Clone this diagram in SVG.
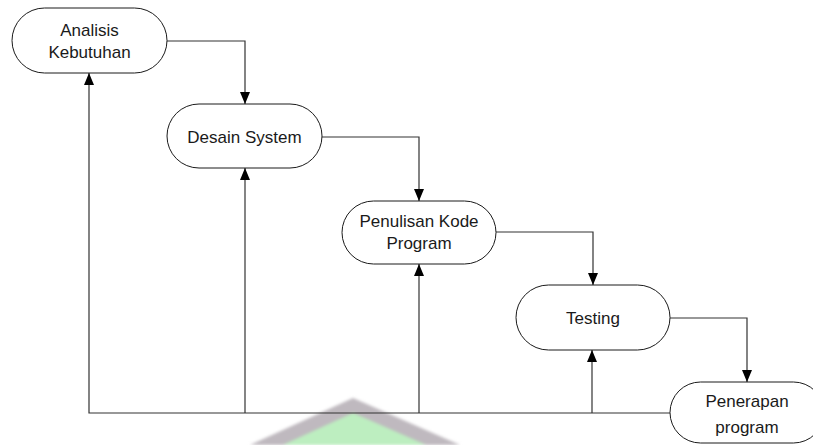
<svg xmlns="http://www.w3.org/2000/svg" width="813" height="445" viewBox="0 0 813 445">
  <style>
    .node { fill: #ffffff; stroke: #1a1a1a; stroke-width: 1; }
    .label { font-family: "Liberation Sans", Arial, sans-serif; font-size: 17px; fill: #1a1a1a; text-anchor: middle; }
    .edge { fill: none; stroke: #333333; stroke-width: 1.2; }
  </style>
  <defs>
    <marker id="arrow" viewBox="0 0 12 10" refX="12" refY="5" markerWidth="12" markerHeight="10" markerUnits="userSpaceOnUse" orient="auto">
      <path d="M0,0 L12,5 L0,10 Z" fill="#000000"/>
    </marker>
    <filter id="soft" x="-10%" y="-10%" width="120%" height="120%">
      <feGaussianBlur stdDeviation="1.5"/>
    </filter>
  </defs>

  <rect width="813" height="445" fill="#ffffff"/>

  <!-- background emblem -->
  <g id="emblem" filter="url(#soft)">
    <polygon points="353,398 460,445 250,445" fill="#bfb9bf"/>
    <polygon points="353,413 426,445 283,445" fill="#bdeec0"/>
  </g>

  <!-- connectors -->
  <g id="connectors">
    <path class="edge" d="M167,41 H245 V104" marker-end="url(#arrow)"/>
    <path class="edge" d="M322,137 H419 V201" marker-end="url(#arrow)"/>
    <path class="edge" d="M496,232 H593 V285" marker-end="url(#arrow)"/>
    <path class="edge" d="M670,318 H747 V382" marker-end="url(#arrow)"/>
    <path class="edge" d="M670,413 H89 V73" marker-end="url(#arrow)"/>
    <path class="edge" d="M245,413 V168" marker-end="url(#arrow)"/>
    <path class="edge" d="M419,413 V264" marker-end="url(#arrow)"/>
    <path class="edge" d="M592,413 V350" marker-end="url(#arrow)"/>
  </g>

  <g id="analisis-kebutuhan">
    <rect class="node" x="12" y="8" width="155" height="65" rx="32.5" ry="32.5"/>
    <text class="label" x="89.5" y="36">Analisis</text>
    <text class="label" x="89.5" y="58">Kebutuhan</text>
  </g>

  <g id="desain-system">
    <rect class="node" x="167" y="104" width="155" height="64" rx="32" ry="32"/>
    <text class="label" x="244.5" y="143">Desain System</text>
  </g>

  <g id="penulisan-kode-program">
    <rect class="node" x="342" y="201" width="154" height="63" rx="31.5" ry="31.5"/>
    <text class="label" x="419" y="227">Penulisan Kode</text>
    <text class="label" x="419" y="249">Program</text>
  </g>

  <g id="testing">
    <rect class="node" x="516" y="285" width="154" height="65" rx="32.5" ry="32.5"/>
    <text class="label" x="593" y="324">Testing</text>
  </g>

  <g id="penerapan-program">
    <rect class="node" x="670" y="382" width="154" height="61" rx="30.5" ry="30.5"/>
    <text class="label" x="747" y="407">Penerapan</text>
    <text class="label" x="747" y="433">program</text>
  </g>
</svg>
